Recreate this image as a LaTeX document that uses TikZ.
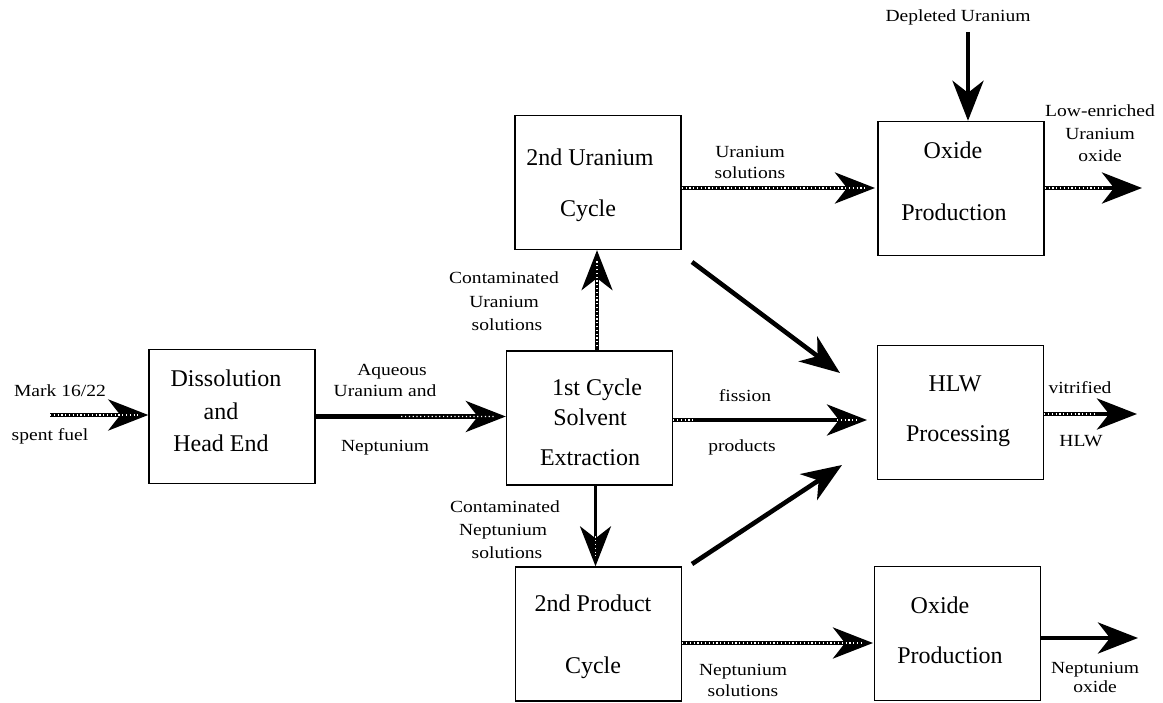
\documentclass[tikz,border=0pt]{standalone}
\usepackage{fontspec}
\setmainfont{Liberation Serif}
\newfontfamily\lblfont[FakeStretch=1.15]{Liberation Serif}
\usetikzlibrary{arrows.meta,calc}
\tikzset{
  procbox/.style={draw, line width=1.4pt, minimum width=166pt, minimum height=134pt, inner sep=0pt},
  boxtext/.style={font=\fontsize{24}{28}\selectfont, inner sep=0pt, text height=0.68em, text depth=0pt},
  flowlabel/.style={font=\lblfont\fontsize{17}{20}\selectfont, inner sep=0pt, text height=0.68em, text depth=0pt},
  flow/.style={line width=4.6pt, -{Stealth[length=40pt,width=31pt,inset=12pt]}},
  thinflow/.style={flow, line width=3.4pt},
  hatchline/.style={draw=white, line width=1.1pt, dash pattern=on 1.2pt off 2.6pt},
}
\begin{document}
\begin{tikzpicture}[x=1pt,y=-1pt]
\useasboundingbox (0,0) rectangle (1163,703);

% boxes
\node[procbox] (D)  at (232,416.5) {};
\node[procbox] (F)  at (589.5,418) {};
\node[procbox] (U)  at (598,182.5) {};
\node[procbox] (OU) at (961,188.5) {};
\node[procbox] (H)  at (960.5,412.5) {};
\node[procbox] (P)  at (598.5,634) {};
\node[procbox] (OL) at (957.5,633.5) {};

% box texts
\node[boxtext] (d1) at (226,383) {Dissolution};
\node[boxtext] (d2) at (221,416) {and};
\node[boxtext] (d3) at (221,448) {Head End};
\node[boxtext] (f1) at (597,392) {1st Cycle};
\node[boxtext] (f2) at (590,422) {Solvent};
\node[boxtext] (f3) at (590,462) {Extraction};
\node[boxtext] (u1) at (590,162) {2nd Uranium};
\node[boxtext] (u2) at (588,213) {Cycle};
\node[boxtext] (ou1) at (953,155) {Oxide};
\node[boxtext] (ou2) at (954,217) {Production};
\node[boxtext] (h1) at (955,388) {HLW};
\node[boxtext] (h2) at (958,438) {Processing};
\node[boxtext] (p1) at (593,608) {2nd Product};
\node[boxtext] (p2) at (593,670) {Cycle};
\node[boxtext] (ol1) at (940,610) {Oxide};
\node[boxtext] (ol2) at (950,660) {Production};

% labels
\node[flowlabel] (lm1) at (60,393) {Mark 16/22};
\node[flowlabel] (lm2) at (50,437) {spent fuel};
\node[flowlabel] (la1) at (392,372) {Aqueous};
\node[flowlabel] (la2) at (385,393) {Uranium and};
\node[flowlabel] (la3) at (385,448) {Neptunium};
\node[flowlabel] (lcu1) at (504,280) {Contaminated};
\node[flowlabel] (lcu2) at (504,304) {Uranium};
\node[flowlabel] (lcu3) at (507,327) {solutions};
\node[flowlabel] (lcn1) at (505,509) {Contaminated};
\node[flowlabel] (lcn2) at (503,532) {Neptunium};
\node[flowlabel] (lcn3) at (507,555) {solutions};
\node[flowlabel] (lf1) at (745,398) {fission};
\node[flowlabel] (lf2) at (742,448) {products};
\node[flowlabel] (lus1) at (750,154) {Uranium};
\node[flowlabel] (lus2) at (750,175) {solutions};
\node[flowlabel] (ldu) at (958,18) {Depleted Uranium};
\node[flowlabel] (lle1) at (1100,113) {Low-enriched};
\node[flowlabel] (lle2) at (1100,136) {Uranium};
\node[flowlabel] (lle3) at (1100,158) {oxide};
\node[flowlabel] (lv1) at (1080,390) {vitrified};
\node[flowlabel] (lv2) at (1081,443) {HLW};
\node[flowlabel] (lns1) at (743,672) {Neptunium};
\node[flowlabel] (lns2) at (743,693) {solutions};
\node[flowlabel] (lno1) at (1095,670) {Neptunium};
\node[flowlabel] (lno2) at (1095,689) {oxide};

% free ends
\coordinate (markin) at (50,415);
\coordinate (fh) at (867,420);
\coordinate (uhs) at (692,262);
\coordinate (uht) at (840,373);
\coordinate (phs) at (692,564);
\coordinate (pht) at (842,465);
\coordinate (uo) at (875,188);
\coordinate (dp) at (968,32);
\coordinate (ouout) at (1142,188);
\coordinate (hout) at (1137,414);
\coordinate (po) at (873,643);
\coordinate (olout) at (1138,638);
\coordinate (fux) at (597,0);
\coordinate (fpx) at (595.5,0);

% connectors
\draw[flow] (markin) -- (markin -| D.west);
\draw[hatchline] (markin) -- ($(markin -| D.west)+(-10,0)$);

\draw[flow] (D.east) -- (D.east -| F.west);
\draw[hatchline] ($(D.east)!0.45!(D.east -| F.west)$) -- ($(D.east -| F.west)+(-10,0)$);

\draw[thinflow] (fux |- F.north) -- (fux |- U.south);
\draw[hatchline] ($(fux |- F.north)+(0,-4)$) -- ($(fux |- U.south)+(0,10)$);

\draw[thinflow] (fpx |- F.south) -- (fpx |- P.north);
\draw[hatchline] ($(fpx |- P.north)+(0,-30)$) -- ($(fpx |- P.north)+(0,-10)$);

\draw[flow] (F.east |- fh) -- (fh);
\draw[hatchline] (F.east |- fh) -- ($(F.east |- fh)+(22,0)$);
\draw[hatchline] ($(fh)+(-30,0)$) -- ($(fh)+(-10,0)$);

\draw[flow] (uhs) -- (uht);
\draw[flow] (phs) -- (pht);

\draw[flow] (U.east |- uo) -- (uo);
\draw[hatchline] (U.east |- uo) -- ($(uo)+(-10,0)$);

\draw[flow] (dp) -- (dp |- OU.north);

\draw[flow] (OU.east |- ouout) -- (ouout);
\draw[hatchline] (OU.east |- ouout) -- ($(ouout)+(-40,0)$);

\draw[flow] (H.east |- hout) -- (hout);
\draw[hatchline] (H.east |- hout) -- ($(hout)+(-40,0)$);

\draw[flow] (P.east |- po) -- (po);
\draw[hatchline] (P.east |- po) -- ($(po)+(-10,0)$);

\draw[flow] (OL.east |- olout) -- (olout);
\end{tikzpicture}
\end{document}
